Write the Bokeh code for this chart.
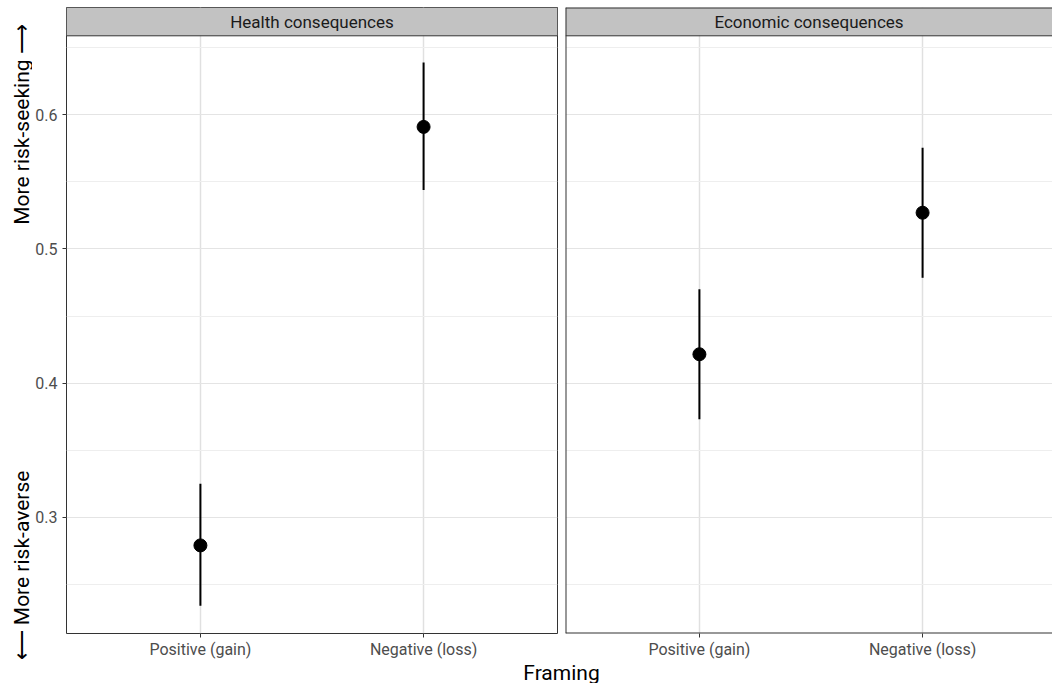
import math
from bokeh.plotting import figure
from bokeh.layouts import column, row
from bokeh.models import Range1d, FixedTicker, BoxAnnotation, Span, Label
from bokeh.core.properties import value
from bokeh.embed import file_html
from bokeh.resources import INLINE

# ---------------- data ----------------
panels = ["Health consequences", "Economic consequences"]
framing = ["Positive (gain)", "Negative (loss)"]
health_mean = [0.279, 0.591]
health_low = [0.234, 0.544]
health_high = [0.325, 0.639]
econ_mean = [0.4215, 0.527]
econ_low = [0.373, 0.4785]
econ_high = [0.470, 0.5755]
y_ticks = [0.3, 0.4, 0.5, 0.6]
y_minor = [0.25, 0.35, 0.45, 0.55, 0.65]
y_label_top = "More risk-seeking \u27f6"
y_label_bottom = "\u27f5 More risk-averse"
x_title = "Framing"

# ---------------- layout constants ----------------
FONT = "Roboto"
Y_START = 0.21333
Y_END = 0.68
PANEL_TOP = 0.6589
X_START, X_END = 0.4, 2.6
FIG_H = 661
TOTAL_H = 683
YLAB_W = 32
LEFT_FRAME_W = 491           # pixels of the left panel
RIGHT_FRAME_W = 487          # visible pixels of the right panel (cut at page edge)
positions = [i + 1 for i in range(len(framing))]


def make_panel(title, mean, low, high, width, bl, br, show_y, x_end, full_outline):
    p = figure(width=width, height=FIG_H, x_range=Range1d(X_START, x_end),
               y_range=Range1d(Y_START, Y_END), output_backend="svg",
               toolbar_location=None, title=None,
               min_border_left=bl, min_border_right=br,
               min_border_top=7, min_border_bottom=24)
    p.background_fill_color = "white"
    p.border_fill_color = "white"
    if full_outline:
        p.outline_line_color = "#333333"
        p.outline_line_width = 1
    else:
        p.outline_line_color = None

    # x axis
    p.xaxis.ticker = FixedTicker(ticks=positions)
    p.xaxis.major_label_overrides = {pos: lab for pos, lab in zip(positions, framing)}
    p.xaxis.major_label_text_font = FONT
    p.xaxis.major_label_text_font_size = "16px"
    p.xaxis.major_label_text_color = "#4d4d4d"
    p.xaxis.major_label_standoff = 2
    p.xaxis.major_tick_out = 4
    p.xaxis.major_tick_in = 0
    p.xaxis.major_tick_line_color = "#333333"
    p.xaxis.minor_tick_line_color = None
    p.xaxis.axis_line_color = None

    # y axis
    p.yaxis.ticker = FixedTicker(ticks=y_ticks, minor_ticks=y_minor)
    p.yaxis.major_label_text_font = FONT
    p.yaxis.major_label_text_font_size = "16px"
    p.yaxis.major_label_text_color = "#4d4d4d"
    p.yaxis.major_label_standoff = 5
    p.yaxis.major_tick_out = 4
    p.yaxis.major_tick_in = 0
    p.yaxis.major_tick_line_color = "#333333"
    p.yaxis.minor_tick_line_color = None
    p.yaxis.axis_line_color = None
    if not show_y:
        p.yaxis.visible = False

    # grids
    p.xgrid.ticker = FixedTicker(ticks=positions)
    p.xgrid.grid_line_color = "#e0e0e0"
    p.xgrid.grid_line_width = 1.5
    p.ygrid.ticker = FixedTicker(ticks=y_ticks, minor_ticks=y_minor)
    p.ygrid.grid_line_color = "#e4e4e4"
    p.ygrid.grid_line_width = 1.2
    p.ygrid.minor_grid_line_color = "#eeeeee"
    p.ygrid.minor_grid_line_width = 1

    # error bars and points
    p.segment(x0=positions, y0=low, x1=positions, y1=high,
              line_color="black", line_width=2)
    p.scatter(x=positions, y=mean, size=13, fill_color="black",
              line_color="black")

    # facet strip
    p.add_layout(BoxAnnotation(bottom=PANEL_TOP, fill_color="#c2c2c2",
                               fill_alpha=1, line_color=None))
    p.add_layout(Span(location=PANEL_TOP, dimension="width",
                      line_color="#333333", line_width=1))
    if not full_outline:
        # border on the visible sides only (panel runs past the page edge)
        p.add_layout(Span(location=X_START, dimension="height",
                          line_color="#333333", line_width=2))
        p.add_layout(Span(location=Y_START, dimension="width",
                          line_color="#333333", line_width=2))
        p.add_layout(Span(location=Y_END, dimension="width",
                          line_color="#333333", line_width=2))
    p.add_layout(Label(x=(X_START + x_end) / 2, y=(PANEL_TOP + Y_END) / 2,
                       text=title, text_align="center", text_baseline="middle",
                       text_font=FONT, text_font_size="17px",
                       text_color="#1a1a1a"))
    return p


px_per_unit = LEFT_FRAME_W / (X_END - X_START)
right_x_end = X_START + RIGHT_FRAME_W / px_per_unit

left = make_panel(panels[0], health_mean, health_low, health_high,
                  529, 34, 4, True, X_END, True)
right = make_panel(panels[1], econ_mean, econ_low, econ_high,
                   491, 4, 0, False, right_x_end, False)

# y axis title (two parts) in a narrow full-height figure of its own
ylab = figure(width=YLAB_W, height=TOTAL_H, x_range=Range1d(0, YLAB_W),
              y_range=Range1d(0, TOTAL_H), output_backend="svg",
              toolbar_location=None, title=None, min_border=0,
              x_axis_location=None, y_axis_location=None)
ylab.outline_line_color = None
ylab.xgrid.visible = False
ylab.ygrid.visible = False
ylab.text(x=[21, 21], y=[TOTAL_H - 124, TOTAL_H - 565],
          text=[y_label_top, y_label_bottom], angle=math.pi / 2,
          text_align="center", text_baseline="middle",
          text_font=value(FONT), text_font_size="21px", text_color="black")

# x axis title
BOTTOM_H = TOTAL_H - FIG_H
bottom_w = 529 + 491
bottom = figure(width=bottom_w, height=BOTTOM_H, x_range=Range1d(0, bottom_w),
                y_range=Range1d(0, BOTTOM_H), output_backend="svg",
                toolbar_location=None, title=None,
                min_border=0, x_axis_location=None, y_axis_location=None)
bottom.outline_line_color = None
bottom.xgrid.visible = False
bottom.ygrid.visible = False
bottom.text(x=[561 - YLAB_W], y=[11], text=[x_title], text_align="center",
            text_baseline="middle", text_font_size="21px",
            text_font=value(FONT), text_color="black")

layout = row(ylab, column(row(left, right), bottom))
open("out.html", "w").write(file_html(layout, INLINE))
